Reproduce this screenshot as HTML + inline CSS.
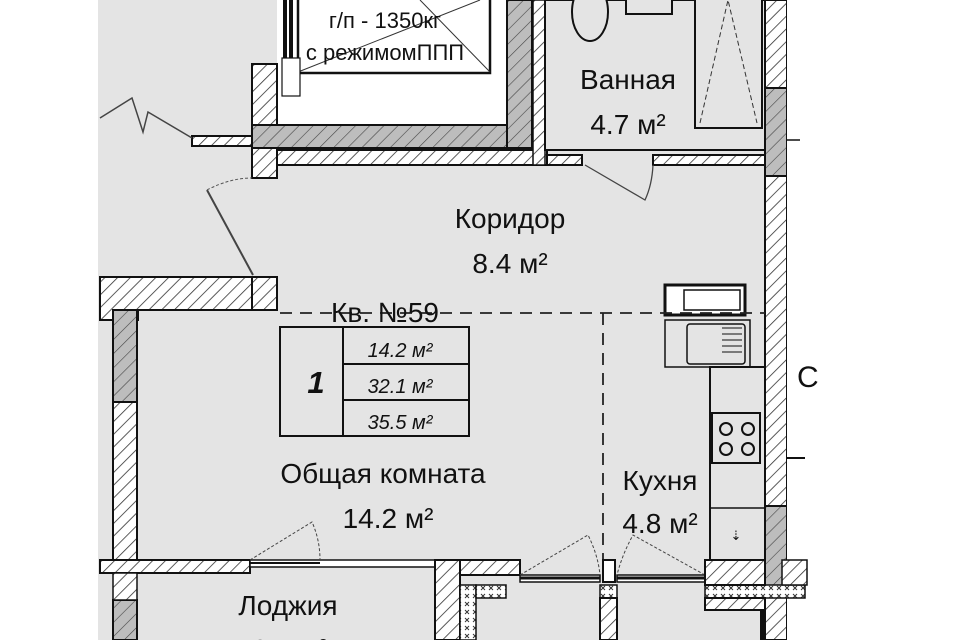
<!DOCTYPE html>
<html><head><meta charset="utf-8"><style>
html,body{margin:0;padding:0;background:#fff}
svg{display:block}
text{font-family:"Liberation Sans",sans-serif;fill:#111}
</style></head><body>
<svg width="960" height="640" viewBox="0 0 960 640" xmlns="http://www.w3.org/2000/svg">
<defs>
<pattern id="h" width="9" height="9" patternUnits="userSpaceOnUse" patternTransform="rotate(45)">
<rect width="9" height="9" fill="#fff"/><line x1="0" y1="0" x2="0" y2="9" stroke="#333" stroke-width="1.6"/></pattern>
<pattern id="c" width="10" height="10" patternUnits="userSpaceOnUse" patternTransform="rotate(45)">
<rect width="10" height="10" fill="#bdbdbd"/><line x1="0" y1="0" x2="0" y2="10" stroke="#444" stroke-width="1.2"/></pattern>
<pattern id="x" width="8" height="8" patternUnits="userSpaceOnUse">
<rect width="8" height="8" fill="#fff"/><path d="M1 2 L5 6 M5 2 L1 6" stroke="#333" stroke-width="1"/></pattern>
</defs>
<rect x="98" y="0" width="705" height="640" fill="#e4e4e4"/>
<rect x="277" y="0" width="232" height="125" fill="#fff"/>
<rect x="298" y="-2" width="192" height="75" fill="#fff" stroke="#111" stroke-width="2.5"/>
<line x1="298" y1="72" x2="480" y2="0" stroke="#333" stroke-width="1"/>
<line x1="420" y1="0" x2="490" y2="72" stroke="#333" stroke-width="1"/>
<rect x="283" y="0" width="4" height="95" fill="#111"/>
<rect x="289" y="0" width="4" height="95" fill="#111"/>
<rect x="282" y="58" width="18" height="38" fill="#fff" stroke="#111" stroke-width="1.2"/>
<text x="385" y="28" font-size="22" text-anchor="middle">г/п - 1350кг</text>
<text x="385" y="60" font-size="22" text-anchor="middle">с режимомППП</text>
<rect x="252" y="125" width="280" height="23" fill="url(#c)" stroke="#111" stroke-width="2"/>
<rect x="507" y="0" width="25" height="148" fill="url(#c)" stroke="#111" stroke-width="2"/>
<rect x="252" y="64" width="25" height="61" fill="url(#h)" stroke="#111" stroke-width="2"/>
<rect x="252" y="148" width="25" height="30" fill="url(#h)" stroke="#111" stroke-width="2"/>
<rect x="277" y="150" width="270" height="15" fill="url(#h)" stroke="#111" stroke-width="2"/>
<rect x="533" y="0" width="12" height="165" fill="url(#h)" stroke="#111" stroke-width="1.5"/>
<rect x="192" y="136" width="60" height="10" fill="url(#h)" stroke="#111" stroke-width="2"/>
<path d="M100 118 L132 98 L143 132 L148 112 L192 138" fill="none" stroke="#444" stroke-width="1.5"/>
<path d="M207 190 L253 275" stroke="#444" stroke-width="2"/>
<path d="M207 190 Q230 178 252 178" fill="none" stroke="#555" stroke-width="1" stroke-dasharray="3 2"/>
<path d="M100 277 L252 277 L252 310 L138 310 L138 320 L100 320 Z" fill="url(#h)" stroke="#111" stroke-width="2"/>
<rect x="252" y="277" width="25" height="33" fill="url(#h)" stroke="#111" stroke-width="2"/>
<rect x="113" y="310" width="24" height="92" fill="url(#c)" stroke="#111" stroke-width="2"/>
<rect x="113" y="402" width="24" height="158" fill="url(#h)" stroke="#111" stroke-width="2"/>
<rect x="113" y="600" width="24" height="40" fill="url(#c)" stroke="#111" stroke-width="2"/>
<rect x="100" y="560" width="150" height="13" fill="url(#h)" stroke="#111" stroke-width="2"/>
<rect x="113" y="573" width="24" height="27" fill="url(#h)" stroke="#111" stroke-width="1.5"/>
<rect x="250" y="560" width="185" height="7" fill="#fff" stroke="#111" stroke-width="1.5"/>
<line x1="250" y1="563" x2="320" y2="563" stroke="#111" stroke-width="2"/>
<path d="M250 560 L312 522 Q320 540 320 560" fill="none" stroke="#444" stroke-width="1" stroke-dasharray="3 2"/>
<rect x="435" y="560" width="25" height="80" fill="url(#h)" stroke="#111" stroke-width="2"/>
<rect x="460" y="585" width="16" height="55" fill="url(#x)" stroke="#111" stroke-width="1.5"/>
<rect x="545" y="0" width="220" height="150" fill="#e4e4e4" stroke="#111" stroke-width="2"/>
<ellipse cx="590" cy="12" rx="18" ry="29" fill="#e4e4e4" stroke="#111" stroke-width="2"/>
<rect x="626" y="-2" width="46" height="16" fill="#e4e4e4" stroke="#111" stroke-width="2"/>
<rect x="695" y="-2" width="67" height="130" fill="#e4e4e4" stroke="#111" stroke-width="2"/>
<path d="M700 123 L728 0 L757 123" fill="none" stroke="#333" stroke-width="1" stroke-dasharray="5 3"/>
<rect x="547" y="155" width="35" height="10" fill="url(#h)" stroke="#111" stroke-width="2"/>
<rect x="653" y="155" width="112" height="10" fill="url(#h)" stroke="#111" stroke-width="2"/>
<path d="M585 165 L645 200 Q652 185 653 165" fill="none" stroke="#444" stroke-width="1.3"/>
<text x="628" y="89" font-size="28" text-anchor="middle">Ванная</text>
<text x="628" y="134" font-size="28" text-anchor="middle">4.7 м²</text>
<rect x="765" y="0" width="22" height="88" fill="url(#h)" stroke="#111" stroke-width="2"/>
<rect x="765" y="88" width="22" height="88" fill="url(#c)" stroke="#111" stroke-width="2"/>
<rect x="765" y="176" width="22" height="330" fill="url(#h)" stroke="#111" stroke-width="2"/>
<rect x="765" y="506" width="22" height="80" fill="url(#c)" stroke="#111" stroke-width="2"/>
<rect x="765" y="586" width="22" height="54" fill="url(#h)" stroke="#111" stroke-width="2"/>
<rect x="787" y="0" width="20" height="640" fill="#fff"/>
<line x1="787" y1="458" x2="805" y2="458" stroke="#111" stroke-width="2"/>
<line x1="787" y1="140" x2="800" y2="140" stroke="#111" stroke-width="1.5"/>
<text x="797" y="387" font-size="30">С</text>
<rect x="665" y="285" width="80" height="30" fill="#fff" stroke="#111" stroke-width="3"/>
<rect x="684" y="290" width="56" height="20" fill="#fff" stroke="#111" stroke-width="1.5"/>
<rect x="665" y="320" width="85" height="47" fill="#e4e4e4" stroke="#111" stroke-width="1.5"/>
<rect x="687" y="324" width="58" height="40" rx="3" fill="#e4e4e4" stroke="#111" stroke-width="1.5"/>
<path d="M722 328 h20 M722 334 h20 M722 340 h20 M722 346 h20 M722 352 h20" stroke="#111"/>
<rect x="710" y="367" width="55" height="193" fill="#e4e4e4" stroke="#111" stroke-width="2"/>
<rect x="712" y="413" width="48" height="50" fill="#e4e4e4" stroke="#111" stroke-width="2"/>
<circle cx="726" cy="429" r="6" fill="none" stroke="#111" stroke-width="2"/><circle cx="748" cy="429" r="6" fill="none" stroke="#111" stroke-width="2"/>
<circle cx="726" cy="449" r="6" fill="none" stroke="#111" stroke-width="2"/><circle cx="748" cy="449" r="6" fill="none" stroke="#111" stroke-width="2"/>
<line x1="710" y1="508" x2="765" y2="508" stroke="#111" stroke-width="1.5"/>
<text x="736" y="540" font-size="13" text-anchor="middle">⇣</text>
<line x1="280" y1="313" x2="765" y2="313" stroke="#222" stroke-width="1.8" stroke-dasharray="12 8"/>
<line x1="603" y1="313" x2="603" y2="560" stroke="#222" stroke-width="1.8" stroke-dasharray="12 8"/>
<rect x="460" y="560" width="60" height="15" fill="url(#h)" stroke="#111" stroke-width="2"/>
<rect x="520" y="575" width="80" height="7" fill="#fff" stroke="#111" stroke-width="1.5"/>
<rect x="617" y="575" width="88" height="7" fill="#fff" stroke="#111" stroke-width="1.5"/>
<line x1="520" y1="578" x2="600" y2="578" stroke="#111" stroke-width="3"/>
<line x1="617" y1="578" x2="705" y2="578" stroke="#111" stroke-width="3"/>
<path d="M520 575 L588 535 Q598 555 600 575 M705 575 L633 535 Q622 555 617 575" fill="none" stroke="#444" stroke-width="1" stroke-dasharray="3 2"/>
<rect x="603" y="560" width="12" height="22" fill="#fff" stroke="#111" stroke-width="2"/>
<rect x="476" y="585" width="30" height="13" fill="url(#x)" stroke="#111" stroke-width="1.5"/>
<rect x="600" y="585" width="17" height="13" fill="url(#x)" stroke="#111" stroke-width="1.5"/>
<rect x="705" y="585" width="100" height="13" fill="url(#x)" stroke="#111" stroke-width="1.5"/>
<rect x="705" y="560" width="60" height="25" fill="url(#h)" stroke="#111" stroke-width="2"/>
<rect x="600" y="598" width="17" height="42" fill="url(#h)" stroke="#111" stroke-width="2"/>
<rect x="705" y="598" width="60" height="12" fill="url(#h)" stroke="#111" stroke-width="2"/>
<rect x="760" y="610" width="5" height="30" fill="#111"/>
<rect x="782" y="560" width="25" height="25" fill="url(#h)" stroke="#111" stroke-width="1.5"/>
<g stroke="#111" stroke-width="2" fill="#e4e4e4">
<rect x="280" y="327" width="63" height="109"/>
<rect x="343" y="327" width="126" height="37"/>
<rect x="343" y="364" width="126" height="36"/>
<rect x="343" y="400" width="126" height="36"/>
</g>
<text x="316" y="393" font-size="31" font-weight="bold" font-style="italic" text-anchor="middle">1</text>
<text x="400" y="357" font-size="20" font-style="italic" text-anchor="middle">14.2 м²</text>
<text x="400" y="393" font-size="20" font-style="italic" text-anchor="middle">32.1 м²</text>
<text x="400" y="429" font-size="20" font-style="italic" text-anchor="middle">35.5 м²</text>
<text x="510" y="228" font-size="28" text-anchor="middle">Коридор</text>
<text x="510" y="273" font-size="28" text-anchor="middle">8.4 м²</text>
<text x="385" y="322" font-size="28" text-anchor="middle">Кв. №59</text>
<text x="383" y="483" font-size="28" text-anchor="middle">Общая комната</text>
<text x="388" y="528" font-size="28" text-anchor="middle">14.2 м²</text>
<text x="660" y="490" font-size="28" text-anchor="middle">Кухня</text>
<text x="660" y="533" font-size="28" text-anchor="middle">4.8 м²</text>
<text x="288" y="615" font-size="28" text-anchor="middle">Лоджия</text>
<text x="290" y="659" font-size="28" text-anchor="middle">8.4 м²</text>
</svg>
</body></html>
